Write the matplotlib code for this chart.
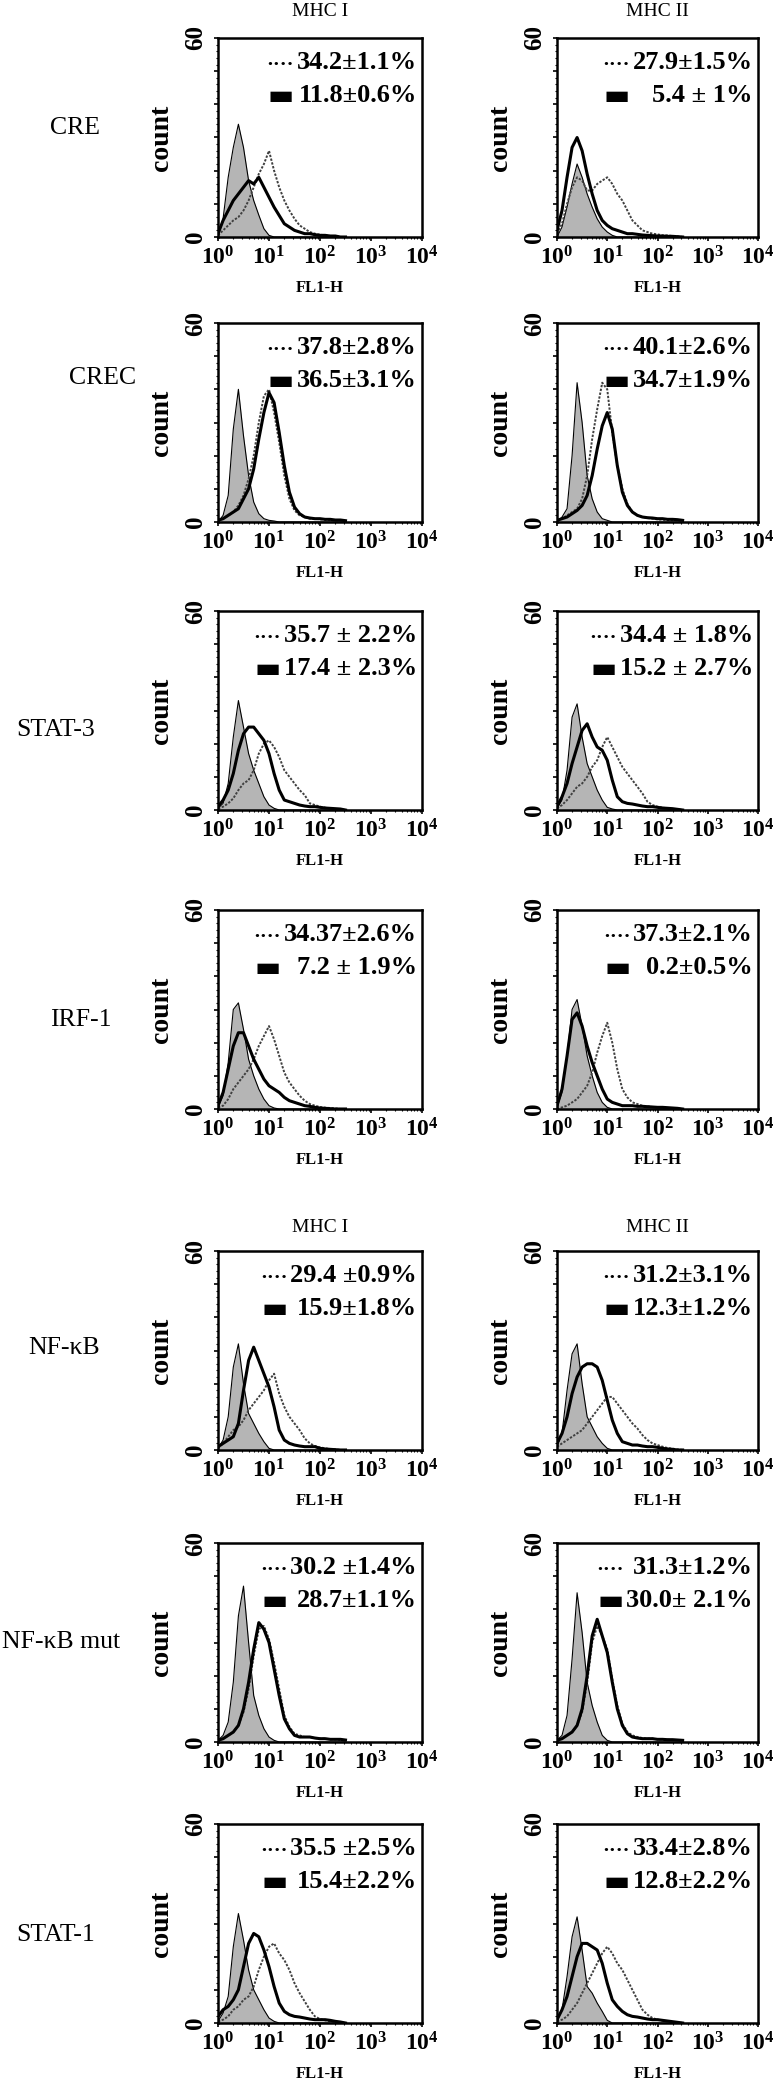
import matplotlib.pyplot as plt
from matplotlib.ticker import FixedLocator, MultipleLocator, LogLocator, NullFormatter
import numpy as np

plt.rcParams['font.family'] = ['Liberation Serif', 'DejaVu Sans']
plt.rcParams['mathtext.fontset'] = 'custom'
plt.rcParams['mathtext.rm'] = 'Liberation Serif'
plt.rcParams['mathtext.bf'] = 'Liberation Serif:bold'

# FL1-H channel positions (decades), counts
log_fl = [0.0, 0.1, 0.2, 0.3, 0.4, 0.5, 0.6, 0.7, 0.8, 0.9, 1.0, 1.1, 1.2,
          1.3, 1.4, 1.5, 1.6, 1.7, 1.8, 1.9, 2.0, 2.1, 2.2, 2.3, 2.4, 2.5]

row_names = ['CRE', 'CREC', 'STAT-3', 'IRF-1', 'NF-κB', 'NF-κB mut', 'STAT-1']
col_names = ['MHC I', 'MHC II']

# iso = grey filled control, solid = thick line, dot = dotted line
cre_1_iso = [0, 5.6, 18, 27, 34, 27, 17, 11, 6.6, 2.5, 0.5, 0, 0, 0, 0, 0, 0, 0, 0, 0, 0, 0, 0, 0, 0, 0]
cre_1_solid = [1, 5, 8, 11, 13, 15, 17, 16, 18, 15, 12, 9, 6.5, 4, 3, 2, 1.5, 1, 1, 0.7, 0.5, 0.5, 0.3, 0.3, 0, 0]
cre_1_dot = [0.5, 2, 3.5, 5, 6, 8, 11, 15, 19, 22, 26, 20, 15, 11, 8, 5.5, 3.5, 2.5, 1.5, 1, 0.7, 0.5, 0.3, 0.2, 0, 0]

cre_2_iso = [0, 3, 9, 16, 22, 18, 13, 9, 5.5, 3, 1.5, 0.5, 0, 0, 0, 0, 0, 0, 0, 0, 0, 0, 0, 0, 0, 0]
cre_2_solid = [2, 8, 18, 27, 30, 26, 19, 13, 8, 5, 3.5, 2.5, 2, 1.5, 1, 1, 0.8, 0.6, 0.5, 0.4, 0.3, 0.3, 0.2, 0.2, 0.1, 0]
cre_2_dot = [1, 4, 10, 15, 18, 17, 14, 14, 16, 17, 18, 16, 13, 11, 8, 5, 3.5, 2, 1.5, 1, 0.8, 0.5, 0.5, 0.3, 0.2, 0]

crec_1_iso = [0, 2, 8, 28, 40, 26, 14, 6, 2.5, 1, 0.5, 0.3, 0, 0, 0, 0, 0, 0, 0, 0, 0, 0, 0, 0, 0, 0]
crec_1_solid = [0.5, 1, 2, 3, 4, 7, 10, 16, 25, 33, 39, 36, 27, 17, 9, 4.5, 2.5, 1.5, 1.2, 1, 1, 0.8, 0.8, 0.6, 0.6, 0.4]
crec_1_dot = [0.5, 1, 2, 3, 5, 8, 13, 20, 30, 38, 40, 33, 24, 14, 7, 3.5, 2, 1.5, 1, 1, 0.8, 0.7, 0.6, 0.5, 0.4, 0.3]

crec_2_iso = [0, 1.5, 4, 20, 42, 30, 14, 7, 3, 1, 0.5, 0, 0, 0, 0, 0, 0, 0, 0, 0, 0, 0, 0, 0, 0, 0]
crec_2_solid = [0.5, 1, 1.5, 2.5, 3.5, 5, 8, 14, 22, 29, 33, 28, 17, 9, 5, 3, 2, 1.5, 1.3, 1.2, 1, 1, 0.8, 0.8, 0.7, 0.5]
crec_2_dot = [0.5, 1, 2, 3, 4, 7, 14, 25, 34, 42, 40, 27, 17, 10, 5.5, 3, 2, 1.5, 1.2, 1, 0.8, 0.7, 0.6, 0.5, 0.5, 0.3]

stat3_1_iso = [0.5, 2, 8, 22, 33, 25, 17, 12, 8, 4, 1.5, 0.5, 0, 0, 0, 0, 0, 0, 0, 0, 0, 0, 0, 0, 0, 0]
stat3_1_solid = [1, 3, 6, 11, 18, 23, 25, 25, 23, 21, 17, 11, 6, 3, 2.5, 2, 1.5, 1.2, 1, 1, 0.8, 0.6, 0.5, 0.4, 0.3, 0]
stat3_1_dot = [0.5, 1, 2, 3.5, 6, 8, 9, 12, 17, 20, 21, 19, 16, 12, 10, 8, 6, 4.5, 2, 1.5, 1, 0.7, 0.5, 0.3, 0.2, 0]

stat3_2_iso = [0.5, 3, 12, 28, 32, 22, 14, 10, 6, 3, 0.8, 0.3, 0, 0, 0, 0, 0, 0, 0, 0, 0, 0, 0, 0, 0, 0]
stat3_2_solid = [1, 4, 8, 14, 19, 24, 26, 22, 19, 18, 15, 9, 4, 2.5, 2, 1.8, 1.5, 1.2, 1, 1, 0.8, 0.6, 0.5, 0.4, 0.2, 0]
stat3_2_dot = [0.5, 1.5, 3, 5, 7, 8, 10, 13, 15, 19, 22, 19, 16, 13, 11, 9, 7, 5, 2.5, 1.5, 1, 0.7, 0.5, 0.3, 0.2, 0]

irf1_1_iso = [0.5, 4, 14, 30, 32, 24, 15, 10, 6, 3, 1, 0.3, 0, 0, 0, 0, 0, 0, 0, 0, 0, 0, 0, 0, 0, 0]
irf1_1_solid = [1, 5, 12, 19, 23, 23, 19, 15, 12, 9, 7, 6, 5, 3.5, 2.5, 2, 1.5, 1, 0.8, 0.5, 0.3, 0.2, 0.1, 0, 0, 0]
irf1_1_dot = [0.5, 1, 3, 6, 8, 10, 12, 15, 19, 22, 25, 21, 16, 11, 8, 6, 4, 2.5, 1.5, 1, 0.6, 0.4, 0.3, 0.2, 0, 0]

irf1_2_iso = [0.5, 5, 16, 30, 33, 25, 16, 10, 5, 2, 0.5, 0, 0, 0, 0, 0, 0, 0, 0, 0, 0, 0, 0, 0, 0, 0]
irf1_2_solid = [1, 6, 16, 27, 29, 25, 19, 14, 10, 6, 3, 2, 1.5, 1, 1, 1, 0.8, 0.8, 0.7, 0.6, 0.5, 0.5, 0.4, 0.3, 0.2, 0]
irf1_2_dot = [0, 0.5, 1, 2, 3, 5, 7, 11, 17, 22, 26, 20, 12, 6, 3.5, 2, 1.5, 1, 0.8, 0.6, 0.5, 0.4, 0.3, 0.2, 0.1, 0]

nfkb_1_iso = [0.5, 3, 10, 25, 32, 20, 11, 8, 5, 2.5, 0.5, 0, 0, 0, 0, 0, 0, 0, 0, 0, 0, 0, 0, 0, 0, 0]
nfkb_1_solid = [1, 2, 3, 4, 8, 18, 27, 31, 27, 23, 19, 13, 6, 3, 2, 1.5, 1.2, 1, 1, 1, 0.5, 0.3, 0.2, 0.1, 0, 0]
nfkb_1_dot = [0.5, 2, 4, 6, 7, 9, 12, 14, 16, 18, 21, 23, 17, 13, 10, 8, 6, 3.5, 2, 1.2, 0.8, 0.5, 0.3, 0.2, 0, 0]

nfkb_2_iso = [1, 5, 18, 29, 32, 20, 10, 7, 4, 2, 0.5, 0, 0, 0, 0, 0, 0, 0, 0, 0, 0, 0, 0, 0, 0, 0]
nfkb_2_solid = [2, 5, 10, 17, 22, 25, 26, 26, 25, 21, 15, 9, 5, 2.5, 2, 1.5, 1.5, 1.2, 1, 1, 0.8, 0.5, 0.3, 0.2, 0, 0]
nfkb_2_dot = [1, 2, 3, 4, 5, 6, 8, 10, 12, 14, 16, 16, 14, 12, 10, 8, 6.5, 4.5, 3, 2, 1.5, 1, 0.6, 0.4, 0.2, 0]

mut_1_iso = [0.5, 2, 6, 18, 38, 47, 30, 14, 8, 4, 1.5, 0.5, 0, 0, 0, 0, 0, 0, 0, 0, 0, 0, 0, 0, 0, 0]
mut_1_solid = [0.5, 1, 2, 3, 5, 10, 18, 28, 36, 34, 30, 22, 14, 7, 4, 2, 1.5, 1.5, 1.5, 1.2, 1, 1, 0.8, 0.8, 0.8, 0.6]
mut_1_dot = [0.5, 1, 2, 3, 5, 9, 16, 26, 34, 35, 31, 24, 16, 8, 4.5, 2.5, 2, 1.5, 1.5, 1.2, 1, 1, 0.8, 0.8, 0.6, 0.5]

mut_2_iso = [0.5, 2, 8, 25, 45, 33, 18, 11, 6, 2, 0.5, 0, 0, 0, 0, 0, 0, 0, 0, 0, 0, 0, 0, 0, 0, 0]
mut_2_solid = [0.5, 1, 2, 3, 5, 10, 20, 32, 37, 32, 27, 18, 10, 5, 2.5, 1.5, 1.2, 1, 1, 1, 0.8, 0.8, 0.7, 0.7, 0.6, 0.5]
mut_2_dot = [0.5, 1, 2, 3, 5, 9, 18, 30, 35, 32, 28, 19, 11, 5.5, 3, 2, 1.5, 1.2, 1, 1, 0.8, 0.8, 0.7, 0.6, 0.5, 0.4]

stat1_1_iso = [0.5, 3, 8, 23, 33, 25, 16, 10, 7, 4, 1.5, 0.5, 0, 0, 0, 0, 0, 0, 0, 0, 0, 0, 0, 0, 0, 0]
stat1_1_solid = [2, 4, 5, 7, 10, 17, 24, 27, 26, 22, 17, 11, 6, 3.5, 2.5, 2, 1.8, 1.5, 1.2, 1, 1, 1, 0.8, 0.5, 0.3, 0]
stat1_1_dot = [0.5, 1, 2, 4, 5, 7, 8, 11, 16, 20, 23, 24, 21, 19, 16, 12, 9, 6.5, 4, 2, 1.2, 0.8, 0.5, 0.3, 0.2, 0]

stat1_2_iso = [0.5, 4, 14, 26, 32, 22, 11, 9, 6, 3.5, 0.8, 0, 0, 0, 0, 0, 0, 0, 0, 0, 0, 0, 0, 0, 0, 0]
stat1_2_solid = [1, 4, 8, 14, 20, 24, 24, 23, 22, 18, 12, 7, 5, 3.5, 2.5, 2, 1.8, 1.5, 1.2, 1, 1, 0.8, 0.6, 0.4, 0.2, 0]
stat1_2_dot = [0.5, 1, 2, 4, 6, 9, 12, 15, 18, 21, 23, 21, 18, 16, 13, 10, 7, 4, 2.5, 1.5, 1, 0.7, 0.5, 0.3, 0.2, 0]

# percentages printed in each panel (dotted line, solid line)
pct_dot = [['34.2±1.1%', '27.9±1.5%'], ['37.8±2.8%', '40.1±2.6%'],
           ['35.7 ± 2.2%', '34.4 ± 1.8%'], ['34.37±2.6%', '37.3±2.1%'],
           ['29.4 ±0.9%', '31.2±3.1%'], ['30.2 ±1.4%', '31.3±1.2%'],
           ['35.5 ±2.5%', '33.4±2.8%']]
pct_solid = [['11.8±0.6%', '5.4 ± 1%'], ['36.5±3.1%', '34.7±1.9%'],
             ['17.4 ± 2.3%', '15.2 ± 2.7%'], ['7.2 ± 1.9%', '0.2±0.5%'],
             ['15.9±1.8%', '12.3±1.2%'], ['28.7±1.1%', '30.0± 2.1%'],
             ['15.4±2.2%', '12.8±2.2%']]

hists = [
    [(cre_1_iso, cre_1_solid, cre_1_dot), (cre_2_iso, cre_2_solid, cre_2_dot)],
    [(crec_1_iso, crec_1_solid, crec_1_dot), (crec_2_iso, crec_2_solid, crec_2_dot)],
    [(stat3_1_iso, stat3_1_solid, stat3_1_dot), (stat3_2_iso, stat3_2_solid, stat3_2_dot)],
    [(irf1_1_iso, irf1_1_solid, irf1_1_dot), (irf1_2_iso, irf1_2_solid, irf1_2_dot)],
    [(nfkb_1_iso, nfkb_1_solid, nfkb_1_dot), (nfkb_2_iso, nfkb_2_solid, nfkb_2_dot)],
    [(mut_1_iso, mut_1_solid, mut_1_dot), (mut_2_iso, mut_2_solid, mut_2_dot)],
    [(stat1_1_iso, stat1_1_solid, stat1_1_dot), (stat1_2_iso, stat1_2_solid, stat1_2_dot)],
]

# layout in pixels
W, H = 779, 2086
row_top = [38, 323, 611, 910, 1251, 1543, 1824]
col_left = [218, 557]
col_w = [204, 201]
ax_h = 199
label_x = [50, 69, 16, 50, 28, 2, 16]
label_y = [128, 378, 730, 1020, 1348, 1642, 1935]
header_y = [11, 1227]

fig = plt.figure(figsize=(W / 100, H / 100), dpi=100)
renderer = fig.canvas.get_renderer()
x = 10 ** np.array(log_fl)

for r in range(7):
    fig.text(label_x[r] / W, 1 - label_y[r] / H, row_names[r], ha='left', va='center', fontsize=18.5)
    for c in range(2):
        iso, solid, dot = hists[r][c]
        ax = fig.add_axes([col_left[c] / W, 1 - (row_top[r] + ax_h) / H, col_w[c] / W, ax_h / H])
        ax.fill_between(x, iso, color='#b5b5b5', lw=0)
        ax.plot(x, iso, color='k', lw=0.8)
        ax.plot(x, dot, color='#404040', lw=1.4, ls=(0, (1.2, 0.8)))
        ax.plot(x, solid, color='k', lw=2.2)
        ax.set_xscale('log')
        ax.set_xlim(1, 1e4)
        ax.set_ylim(0, 60)

        ax.xaxis.set_major_locator(FixedLocator([1, 10, 100, 1000, 10000]))
        ax.set_xticklabels([r'$\mathbf{10^{%d}}$' % i for i in range(5)], fontsize=17)
        ax.xaxis.set_minor_locator(LogLocator(base=10, subs=np.arange(2, 10), numticks=10))
        ax.xaxis.set_minor_formatter(NullFormatter())
        ax.set_yticks([0, 10, 20, 30, 40, 50, 60])
        ax.set_yticklabels(['0', '', '', '', '', '', '60'], rotation=90, va='center',
                           fontsize=18, fontweight='bold')
        ax.yaxis.set_minor_locator(MultipleLocator(2))
        ax.tick_params(which='major', direction='out', length=3, width=1.2, pad=4)
        ax.tick_params(which='minor', direction='out', length=1.5, width=0.8)
        ax.tick_params(axis='y', which='major', pad=5)
        ax.tick_params(top=False, right=False, which='both')
        for s in ax.spines.values():
            s.set_linewidth(1.8)

        ax.set_ylabel('count', fontsize=20, fontweight='bold')
        ax.yaxis.set_label_coords(-44 / col_w[c], 0.5)
        ax.set_xlabel('FL1-H', fontsize=12, fontweight='bold')
        ax.xaxis.set_label_coords(0.5, -43 / ax_h)

        # percentage legend, both keys lined up left of the wider number
        t1 = ax.text(0.975, 0.875, pct_dot[r][c], transform=ax.transAxes, ha='right', va='center',
                     fontsize=19, fontweight='bold')
        t2 = ax.text(0.975, 0.71, pct_solid[r][c], transform=ax.transAxes, ha='right', va='center',
                     fontsize=19, fontweight='bold')
        wide = t1 if t1.get_window_extent(renderer).x0 <= t2.get_window_extent(renderer).x0 else t2
        ax.annotate('····', xy=(0, 0.4), xycoords=(wide, t1), xytext=(-2, 0), textcoords='offset points',
                    ha='right', va='center', fontsize=15, fontweight='bold')
        ax.annotate('▬', xy=(0, 0.5), xycoords=(wide, t2), xytext=(-2, 0), textcoords='offset points',
                    ha='right', va='center', fontsize=20, family='DejaVu Sans')

for yh in header_y:
    for c in range(2):
        fig.text((col_left[c] + col_w[c] / 2) / W, 1 - yh / H, col_names[c], ha='center', va='center',
                 fontsize=14)

fig.savefig('out.png', dpi=100)
